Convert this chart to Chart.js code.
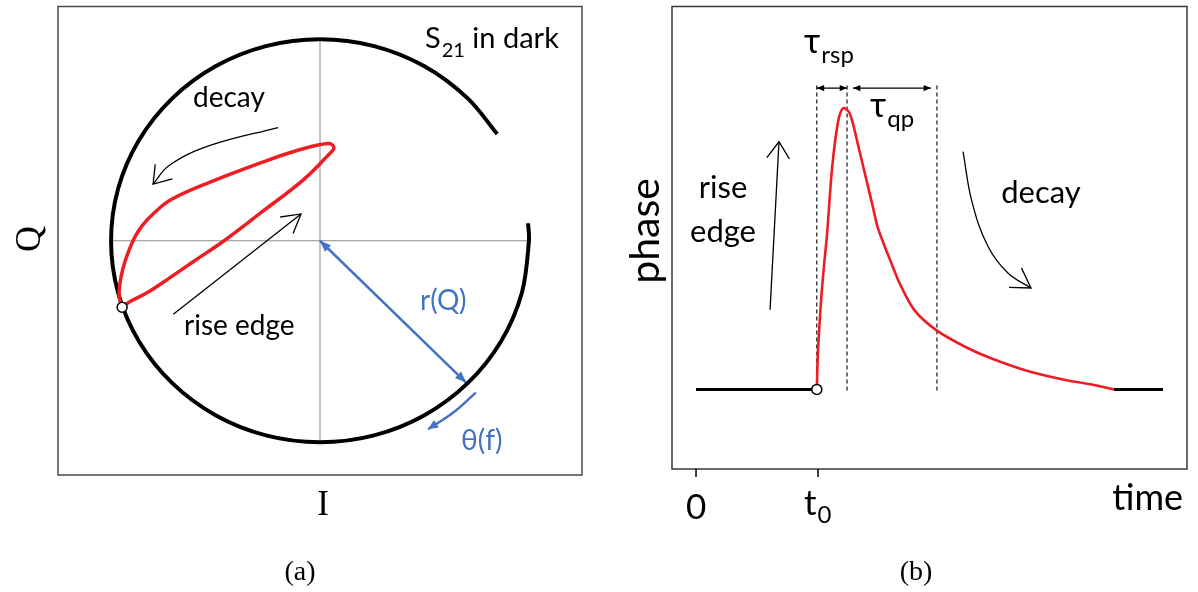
<!DOCTYPE html>
<html>
<head>
<meta charset="utf-8">
<script src="https://cdn.jsdelivr.net/npm/chart.js@4.4.0/dist/chart.umd.min.js"></script>
<style>
body { margin: 0; background: #fff; width: 1198px; height: 592px; overflow: hidden; position: relative; }
#iqCanvas { position: absolute; left: 0; top: 0; }
#phaseCanvas { position: absolute; left: 600px; top: 0; }
</style>
</head>
<body>
<canvas id="iqCanvas" width="600" height="592"></canvas>
<canvas id="phaseCanvas" width="598" height="592"></canvas>
<script>
// ---- (a) IQ plane, resonance circle radius = 1 ----
const circleI = [0.848, 0.707, 0.5, 0.259, 0, -0.259, -0.5, -0.707, -0.866, -0.966, -1, -0.966, -0.866, -0.707, -0.5, -0.259, 0, 0.259, 0.5, 0.707, 0.866, 0.966, 1, 0.996];
const circleQ = [0.53, 0.707, 0.866, 0.966, 1, 0.966, 0.866, 0.707, 0.5, 0.259, 0, -0.259, -0.5, -0.707, -0.866, -0.966, -1, -0.966, -0.866, -0.707, -0.5, -0.259, 0, 0.087];

const loopI = [-0.947, -0.909, -0.828, -0.718, -0.593, -0.459, -0.278, -0.077, 0.038, 0.067, 0.038, -0.11, -0.278, -0.526, -0.708, -0.789, -0.852, -0.895, -0.943, -0.962, -0.947];
const loopQ = [-0.33, -0.302, -0.258, -0.183, -0.094, 0, 0.143, 0.305, 0.424, 0.463, 0.483, 0.448, 0.389, 0.291, 0.207, 0.143, 0.074, 0, -0.138, -0.266, -0.33];

const markerI = [-0.947];
const markerQ = [-0.33];

const axisSpan = [-1, 1];
const axisZero = [0, 0];

const decayArrowI = [-0.201, -0.526, -0.722, -0.799];
const decayArrowQ = [0.562, 0.473, 0.374, 0.281];
const riseArrowI = [-0.702, -0.091];
const riseArrowQ = [-0.365, 0.133];
const radiusArrowI = [0, 0.699];
const radiusArrowQ = [0, -0.704];
const thetaArcI = [0.746, 0.638, 0.517];
const thetaArcQ = [-0.754, -0.853, -0.936];

// ---- (b) phase vs time, t0 = 1, peak = 1 ----
const pulseT = [0.99, 1.0, 1.025, 1.049, 1.074, 1.115, 1.164, 1.205, 1.254, 1.287, 1.328, 1.369, 1.41, 1.451, 1.492, 1.582, 1.672, 1.795, 1.975, 2.205, 2.402, 2.705, 3.008, 3.23, 3.426];
const pulsePhase = [0, 0.137, 0.313, 0.437, 0.549, 0.782, 0.947, 0.996, 0.982, 0.94, 0.866, 0.792, 0.718, 0.644, 0.57, 0.468, 0.373, 0.278, 0.208, 0.151, 0.113, 0.067, 0.035, 0.018, 0];

const baselineT = [0, 0.99];
const tailT = [3.426, 3.828];
const flatPhase = [0, 0];

const tickValues = [0, 1];
const tickLabels = ["0", "t0"];

const dashT = [0.99, 1.238, 1.975];
const dashPhase = [-0.004, 1.081];

const rspSpanT = [0.99, 1.238];
const qpSpanT = [1.287, 1.926];
const spanPhase = [1.067, 1.067];

const riseArrowT = [0.607, 0.68];
const riseArrowP = [0.282, 0.877];
const decayArrowT = [2.189, 2.262, 2.393, 2.557, 2.746];
const decayArrowP = [0.842, 0.665, 0.507, 0.412, 0.359];

const pts = (xs, ys) => xs.map((x, i) => ({ x: x, y: ys[i] }));

const RED = "#ee1d23";
const BLUE = "#4472c4";

function line(data, color, width, extra) {
    return Object.assign({
        data: data,
        showLine: true,
        borderColor: color,
        borderWidth: width,
        pointRadius: 0,
        pointHoverRadius: 0,
        fill: false,
        tension: 0
    }, extra || {});
}

function px(chart, x, y) {
    return [chart.scales.x.getPixelForValue(x), chart.scales.y.getPixelForValue(y)];
}

function arrowHead(ctx, chart, from, to, len, spread, filled, color) {
    const a = px(chart, to[0], to[1]);
    const b = px(chart, from[0], from[1]);
    const ang = Math.atan2(b[1] - a[1], b[0] - a[0]);
    ctx.save();
    ctx.beginPath();
    ctx.moveTo(a[0] + len * Math.cos(ang + spread), a[1] + len * Math.sin(ang + spread));
    ctx.lineTo(a[0], a[1]);
    ctx.lineTo(a[0] + len * Math.cos(ang - spread), a[1] + len * Math.sin(ang - spread));
    if (filled) {
        ctx.closePath();
        ctx.fillStyle = color;
        ctx.fill();
    } else {
        ctx.strokeStyle = color;
        ctx.lineWidth = 1.3;
        ctx.stroke();
    }
    ctx.restore();
}

// text with an optional subscript part
function label(ctx, main, sub, rest, x, y, size, subSize, subDrop, color) {
    ctx.fillStyle = color || "#000";
    ctx.textAlign = "left";
    ctx.textBaseline = "alphabetic";
    ctx.font = size + "px Lato, 'Noto Sans', sans-serif";
    ctx.fillText(main, x, y);
    let cx = x + ctx.measureText(main).width + 1;
    if (sub) {
        ctx.font = subSize + "px Lato, 'Noto Sans', sans-serif";
        ctx.fillText(sub, cx, y + subDrop);
        cx += ctx.measureText(sub).width;
    }
    if (rest) {
        ctx.font = size + "px Lato, 'Noto Sans', sans-serif";
        ctx.fillText(rest, cx, y);
    }
}

const iqDecorations = {
    id: "iqDecorations",
    afterDatasetsDraw(chart) {
        const ctx = chart.ctx;
        const area = chart.chartArea;

        ctx.save();
        ctx.strokeStyle = "#4a4a4a";
        ctx.lineWidth = 1.5;
        ctx.strokeRect(area.left, area.top, area.right - area.left, area.bottom - area.top);

        const n = decayArrowI.length;
        arrowHead(ctx, chart, [decayArrowI[n - 2], decayArrowQ[n - 2]], [decayArrowI[n - 1], decayArrowQ[n - 1]], 20, 0.6, false, "#000");
        arrowHead(ctx, chart, [riseArrowI[0], riseArrowQ[0]], [riseArrowI[1], riseArrowQ[1]], 21, 0.52, false, "#000");
        arrowHead(ctx, chart, [radiusArrowI[1], radiusArrowQ[1]], [radiusArrowI[0], radiusArrowQ[0]], 12, 0.38, true, BLUE);
        arrowHead(ctx, chart, [radiusArrowI[0], radiusArrowQ[0]], [radiusArrowI[1], radiusArrowQ[1]], 12, 0.38, true, BLUE);
        arrowHead(ctx, chart, [thetaArcI[1], thetaArcQ[1]], [thetaArcI[2], thetaArcQ[2]], 11, 0.42, true, BLUE);

        label(ctx, "S", "21", " in dark", 425, 48, 29, 20, 9);
        label(ctx, "decay", "", "", 193, 107, 28);
        label(ctx, "rise edge", "", "", 184, 335, 28);
        label(ctx, "r(Q)", "", "", 420, 310, 28, 0, 0, BLUE);
        label(ctx, "\u03b8(f)", "", "", 461, 450, 28, 0, 0, BLUE);

        ctx.fillStyle = "#000";
        ctx.font = "35px 'Liberation Serif', serif";
        ctx.textAlign = "center";
        ctx.fillText("I", 323, 515);
        ctx.font = "28px 'Liberation Serif', serif";
        ctx.fillText("(a)", 300, 580);

        ctx.translate(31, 239);
        ctx.rotate(-Math.PI / 2);
        ctx.font = "36px 'Liberation Serif', serif";
        ctx.textBaseline = "middle";
        ctx.fillText("Q", 0, 0);
        ctx.restore();
    }
};

new Chart(document.getElementById("iqCanvas"), {
    type: "scatter",
    data: {
        datasets: [
            Object.assign(line(pts(markerI, markerQ), "#000", 1.5), {
                showLine: false, pointRadius: 5, pointBackgroundColor: "#fff", pointBorderColor: "#000", pointBorderWidth: 1.5, order: 0
            }),
            line(pts(loopI, loopQ), RED, 3.5, { tension: 0.4, order: 1 }),
            line(pts(circleI, circleQ), "#000", 4, { tension: 0.34, order: 2 }),
            line(pts(decayArrowI, decayArrowQ), "#000", 1.3, { tension: 0.4, order: 3 }),
            line(pts(riseArrowI, riseArrowQ), "#000", 1.3, { order: 3 }),
            line(pts(radiusArrowI, radiusArrowQ), BLUE, 2.5, { order: 3 }),
            line(pts(thetaArcI, thetaArcQ), BLUE, 2.5, { tension: 0.4, order: 3 }),
            line(pts(axisSpan, axisZero), "#8c8c8c", 1, { order: 4 }),
            line(pts(axisZero, axisSpan), "#8c8c8c", 1, { order: 4 })
        ]
    },
    options: {
        responsive: false,
        animation: false,
        events: [],
        layout: { padding: { left: 58, right: 18, top: 3, bottom: 117 } },
        plugins: { legend: { display: false }, tooltip: { enabled: false } },
        scales: {
            x: { type: "linear", min: -1.254, max: 1.254, display: false },
            y: { type: "linear", min: -1.163, max: 1.163, display: false }
        }
    },
    plugins: [iqDecorations]
});

const phaseDecorations = {
    id: "phaseDecorations",
    afterDatasetsDraw(chart) {
        const ctx = chart.ctx;
        const area = chart.chartArea;

        ctx.save();
        ctx.strokeStyle = "#3a3a3a";
        ctx.lineWidth = 1.5;
        ctx.strokeRect(area.left, area.top, area.right - area.left, area.bottom - area.top);

        // ticks on time axis
        ctx.strokeStyle = "#000";
        ctx.lineWidth = 1.5;
        tickValues.forEach((t) => {
            const x = chart.scales.x.getPixelForValue(t);
            ctx.beginPath();
            ctx.moveTo(x, area.bottom);
            ctx.lineTo(x, area.bottom + 8);
            ctx.stroke();
        });

        arrowHead(ctx, chart, [riseArrowT[0], riseArrowP[0]], [riseArrowT[1], riseArrowP[1]], 20, 0.6, false, "#000");
        const n = decayArrowT.length;
        arrowHead(ctx, chart, [decayArrowT[n - 2], decayArrowP[n - 2]], [decayArrowT[n - 1], decayArrowP[n - 1]], 22, 0.55, false, "#000");
        [rspSpanT, qpSpanT].forEach((span) => {
            arrowHead(ctx, chart, [span[1], spanPhase[1]], [span[0], spanPhase[0]], 8, 0.4, true, "#000");
            arrowHead(ctx, chart, [span[0], spanPhase[0]], [span[1], spanPhase[1]], 8, 0.4, true, "#000");
        });

        // tick labels
        const x0 = chart.scales.x.getPixelForValue(tickValues[0]);
        const x1 = chart.scales.x.getPixelForValue(tickValues[1]);
        ctx.fillStyle = "#000";
        ctx.font = "35px Lato, sans-serif";
        ctx.textAlign = "center";
        ctx.fillText(tickLabels[0], x0, 519);
        label(ctx, tickLabels[1].charAt(0), tickLabels[1].slice(1), "", x1 - 14, 515, 35, 24, 8);

        ctx.textAlign = "right";
        ctx.font = "36px Lato, sans-serif";
        ctx.fillText("time", 583, 510);

        ctx.textAlign = "center";
        ctx.font = "31px Lato, sans-serif";
        ctx.fillText("rise", 123, 198);
        ctx.fillText("edge", 123, 242);
        ctx.fillText("decay", 441, 203);

        label(ctx, "\u03c4", "rsp", "", 204, 53, 35, 24, 10);
        label(ctx, "\u03c4", "qp", "", 270, 117, 35, 24, 10);

        ctx.fillStyle = "#000";
        ctx.textAlign = "center";
        ctx.font = "28px 'Liberation Serif', serif";
        ctx.fillText("(b)", 316, 580);

        ctx.translate(59, 231);
        ctx.rotate(-Math.PI / 2);
        ctx.font = "41px Lato, sans-serif";
        ctx.textAlign = "center";
        ctx.textBaseline = "alphabetic";
        ctx.fillText("phase", 0, 0);
        ctx.restore();
    }
};

const dashSets = dashT.map((t) => line(pts([t, t], dashPhase), "#000", 1.1, { borderDash: [4, 3], order: 4 }));

new Chart(document.getElementById("phaseCanvas"), {
    type: "scatter",
    data: {
        datasets: [
            Object.assign(line(pts([baselineT[1]], [0]), "#000", 1.5), {
                showLine: false, pointRadius: 5, pointBackgroundColor: "#fff", pointBorderColor: "#000", pointBorderWidth: 1.5, order: 0
            }),
            line(pts(pulseT, pulsePhase), RED, 2.6, { tension: 0.3, order: 1 }),
            line(pts(baselineT, flatPhase), "#000", 3, { order: 2 }),
            line(pts(tailT, flatPhase), "#000", 3, { order: 2 }),
            line(pts(riseArrowT, riseArrowP), "#000", 1.3, { order: 3 }),
            line(pts(decayArrowT, decayArrowP), "#000", 1.3, { tension: 0.4, order: 3 }),
            line(pts(rspSpanT, spanPhase), "#000", 1.1, { order: 3 }),
            line(pts(qpSpanT, spanPhase), "#000", 1.1, { order: 3 })
        ].concat(dashSets)
    },
    options: {
        responsive: false,
        animation: false,
        events: [],
        layout: { padding: { left: 72, right: 11, top: 4, bottom: 123 } },
        plugins: { legend: { display: false }, tooltip: { enabled: false } },
        scales: {
            x: { type: "linear", min: -0.197, max: 4.025, display: false },
            y: { type: "linear", min: -0.282, max: 1.356, display: false }
        }
    },
    plugins: [phaseDecorations]
});
</script>
</body>
</html>
